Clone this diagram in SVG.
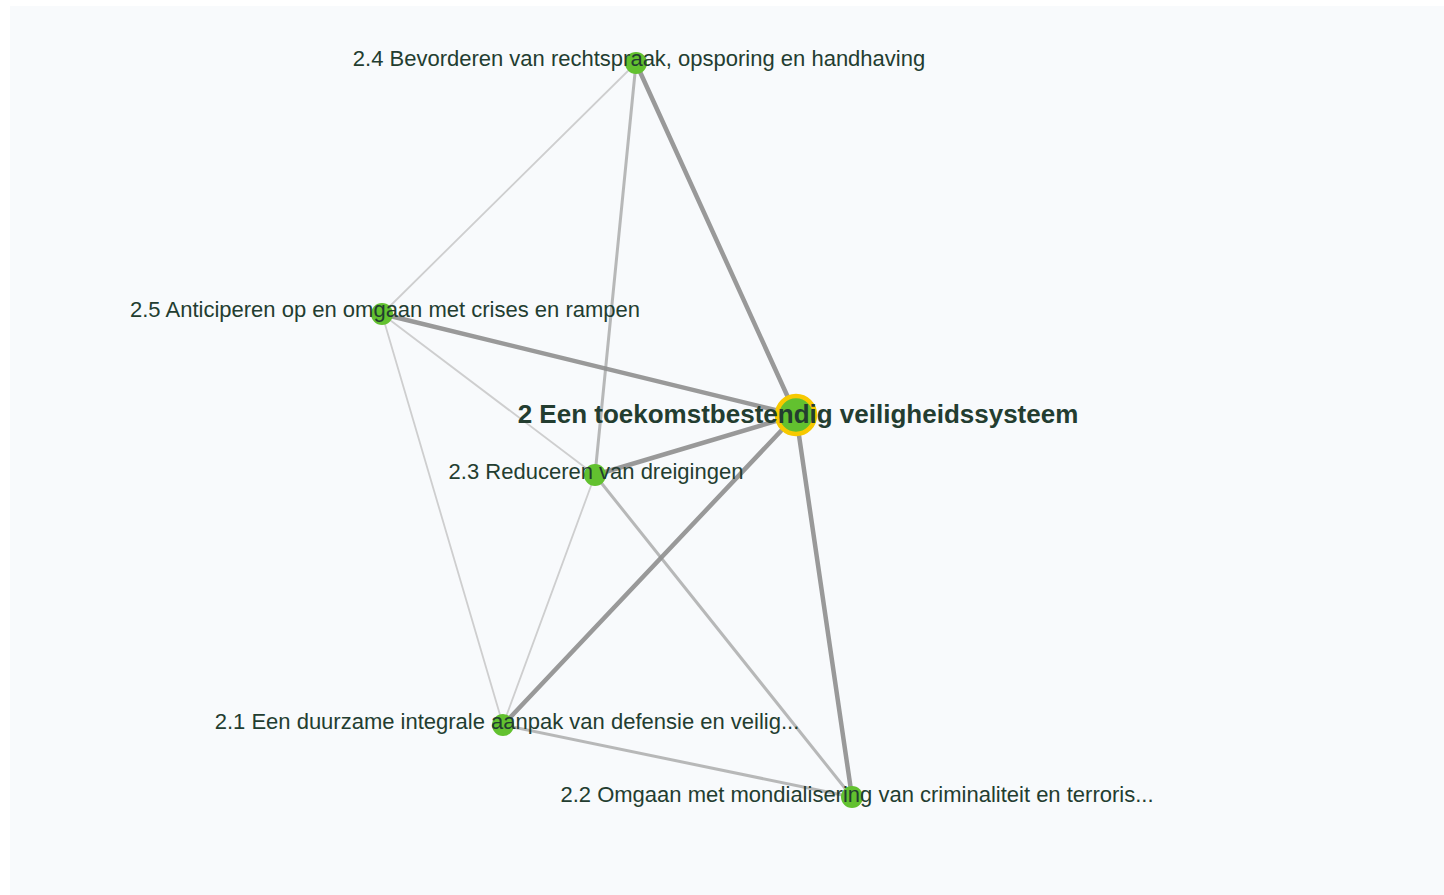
<svg xmlns="http://www.w3.org/2000/svg" width="1444" height="895" viewBox="0 0 1444 895">
<style>
.lbl{font-family:"Liberation Sans",Arial,sans-serif;font-size:22px;fill:#233d30;text-anchor:middle}
.main{font-size:26px;font-weight:bold}
.node{fill:#62c12f}
.e1{stroke:#8f8f8f;stroke-width:4.5;stroke-linecap:round;opacity:0.9}
.e2{stroke:#a8a8a8;stroke-width:3;stroke-linecap:round;opacity:0.8}
.e3{stroke:#c4c4c4;stroke-width:1.8;stroke-linecap:round;opacity:0.8}
</style>
<rect x="0" y="0" width="1444" height="895" fill="#ffffff"/>
<rect x="10" y="6" width="1434" height="889" fill="#f8fafc"/>
<g id="connectors">
<line class="e3" x1="636" y1="63" x2="382" y2="314"/>
<line class="e3" x1="382" y1="314" x2="595" y2="475"/>
<line class="e3" x1="382" y1="314" x2="503" y2="725"/>
<line class="e3" x1="595" y1="475" x2="503" y2="725"/>
<line class="e2" x1="636" y1="63" x2="595" y2="475"/>
<line class="e2" x1="595" y1="475" x2="852" y2="797"/>
<line class="e2" x1="503" y1="725" x2="852" y2="797"/>
<line class="e1" x1="796" y1="415" x2="636" y2="63"/>
<line class="e1" x1="796" y1="415" x2="382" y2="314"/>
<line class="e1" x1="796" y1="415" x2="595" y2="475"/>
<line class="e1" x1="796" y1="415" x2="503" y2="725"/>
<line class="e1" x1="796" y1="415" x2="852" y2="797"/>
</g>
<g id="node-2-4"><circle class="node" cx="636" cy="63" r="11"/><text class="lbl" x="639" y="66">2.4 Bevorderen van rechtspraak, opsporing en handhaving</text></g>
<g id="node-2-5"><circle class="node" cx="382" cy="314" r="11"/><text class="lbl" x="385" y="317">2.5 Anticiperen op en omgaan met crises en rampen</text></g>
<g id="node-2-3"><circle class="node" cx="595" cy="475" r="11"/><text class="lbl" x="596" y="479">2.3 Reduceren van dreigingen</text></g>
<g id="node-2-1"><circle class="node" cx="503" cy="725" r="11"/><text class="lbl" x="507" y="729">2.1 Een duurzame integrale aanpak van defensie en veilig...</text></g>
<g id="node-2-2"><circle class="node" cx="852" cy="797" r="11"/><text class="lbl" x="857" y="802">2.2 Omgaan met mondialisering van criminaliteit en terroris...</text></g>
<g id="node-2"><circle cx="796" cy="415" r="19" fill="#62c12f" stroke="#f7c900" stroke-width="4.5"/><text class="lbl main" x="798" y="423">2 Een toekomstbestendig veiligheidssysteem</text></g>
</svg>
